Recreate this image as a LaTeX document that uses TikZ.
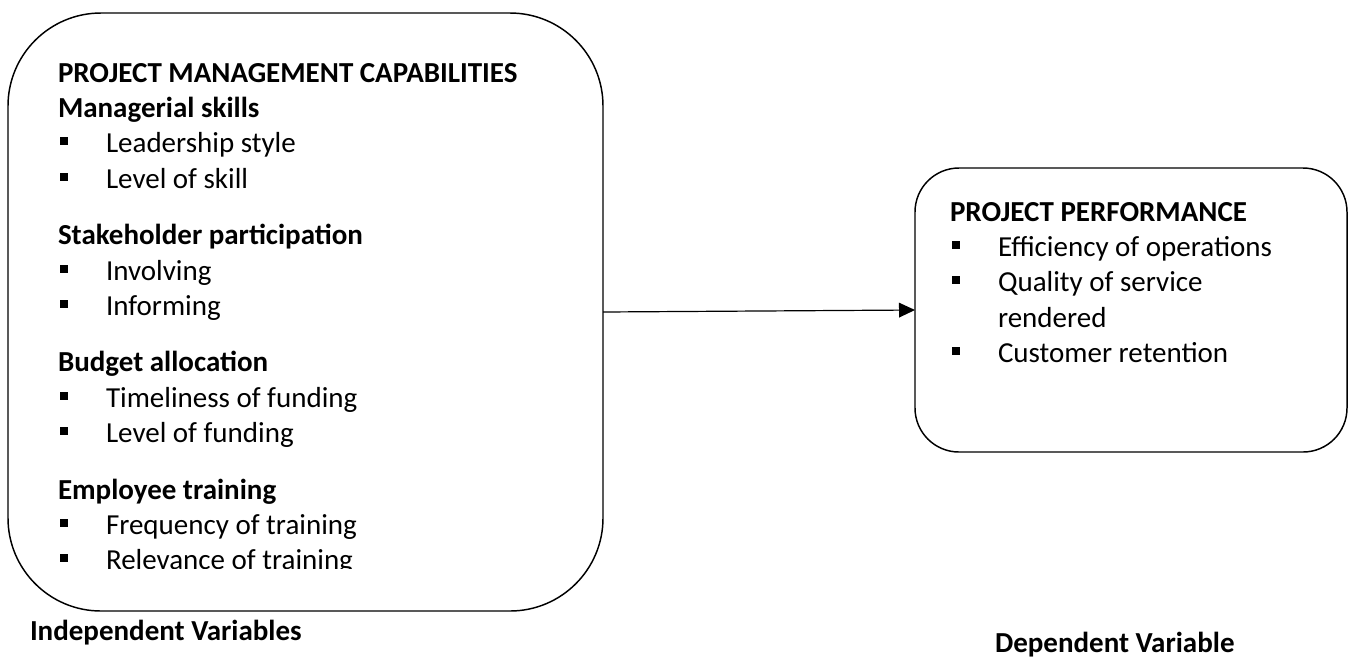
\documentclass[tikz,border=0pt]{standalone}
\usepackage{fontspec}
\setmainfont{Carlito}
\usetikzlibrary{arrows.meta}
\newcommand{\bul}{\rule[5.6pt]{6pt}{6pt}\hspace{28.5pt}}
\begin{document}
\begin{tikzpicture}[x=0.75pt,y=-0.75pt,
  boxshape/.style={draw, line width=1.1pt, inner sep=0pt, outer sep=0pt},
  txt/.style={anchor=base west, inner sep=0pt, outer sep=0pt, font=\fontsize{21.75}{26}\selectfont},
  hdr/.style={txt, font=\fontsize{21.75}{26}\selectfont\bfseries},
  item/.style={txt},
  conn/.style={line width=0.9pt, -{Triangle[length=12pt,width=11pt]}}
]
\useasboundingbox (0,0) rectangle (1352,662);

% boxes
\node[boxshape, rounded corners=69.75pt, minimum width=446.25pt, minimum height=448.5pt] (pmc) at (305.5,312) {};
\node[boxshape, rounded corners=33pt, minimum width=324pt, minimum height=213pt] (perf) at (1131,310) {};

% left box text
\node[hdr] (t1) at (58,82) {PROJECT MANAGEMENT CAPABILITIES};
\node[hdr] (t2) at (58,117.4) {Managerial skills};
\node[item] (t3) at (60,152.8) {\bul Leadership style};
\node[item] (t4) at (60,188.2) {\bul Level of skill};
\node[hdr] (t5) at (58,244.6) {Stakeholder participation};
\node[item] (t6) at (60,280) {\bul Involving};
\node[item] (t7) at (60,315.4) {\bul Informing};
\node[hdr] (t8) at (58,371.8) {Budget allocation};
\node[item] (t9) at (60,407.2) {\bul Timeliness of funding};
\node[item] (t10) at (60,442.6) {\bul Level of funding};
\node[hdr] (t11) at (58,499) {Employee training};
\node[item] (t12) at (60,534.4) {\bul Frequency of training};
\begin{scope}
  \clip (0,0) rectangle (1352,568);
  \node[item] (t13) at (60,569.8) {\bul Relevance of training};
\end{scope}

% right box text
\node[hdr] (r1) at (950,221) {PROJECT PERFORMANCE};
\node[item] (r2) at (952,256.4) {\bul Efficiency of operations};
\node[item] (r3) at (952,291.8) {\bul Quality of service};
\node[txt] (r4) at (998,327.2) {rendered};
\node[item] (r5) at (952,362.6) {\bul Customer retention};

% connector
\draw[conn] (pmc.east) -- (perf.west);

% captions
\node[hdr] (iv) at (30,640) {Independent Variables};
\node[hdr] (dv) at (995,652) {Dependent Variable};
\end{tikzpicture}
\end{document}
